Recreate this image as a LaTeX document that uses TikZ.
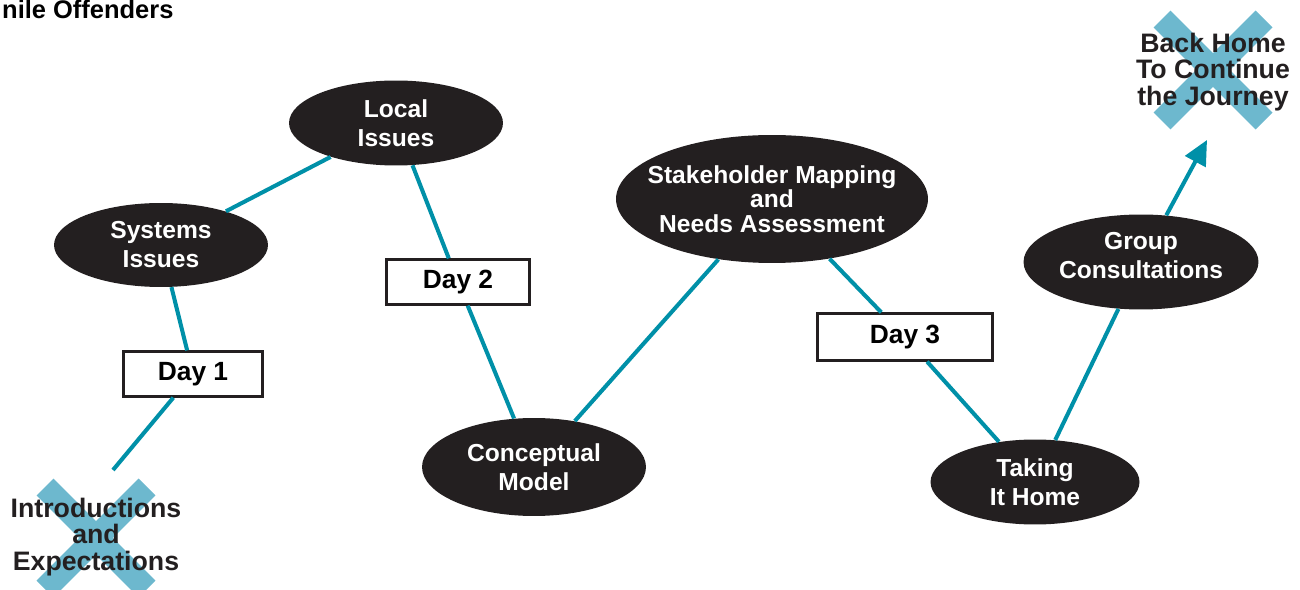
\documentclass[tikz,border=0pt]{standalone}
\usepackage{fontspec}
\setmainfont{Liberation Sans}
\usetikzlibrary{shapes.geometric,arrows.meta}

\definecolor{trailteal}{HTML}{0090A8}
\definecolor{crossblue}{HTML}{6DB8CE}
\definecolor{stopdark}{HTML}{231F20}

\begin{document}
\begin{tikzpicture}[x=0.02cm, y=-0.02cm,
        stop/.style={ellipse, fill=stopdark, text=white, inner sep=0pt, align=center,
            font=\bfseries\fontsize{14pt}{16.5pt}\selectfont},
        daybox/.style={draw=stopdark, line width=1.3pt, fill=white, inner sep=0pt,
            font=\bfseries\fontsize{15pt}{17pt}\selectfont, minimum height=0.9cm},
        trail/.style={trailteal, line width=2.3pt},
        xmark/.pic={\draw[crossblue, line width=0.48cm] (-51,-51) -- (51,51) (51,-51) -- (-51,51);},
        endtext/.style={align=center, text=stopdark, font=\bfseries\fontsize{15.2pt}{15.3pt}\selectfont}]
        \useasboundingbox (0,0) rectangle (1300,590);

        % Title, runs off the left edge.
        \node[anchor=base west, font=\bfseries\fontsize{14.5pt}{16pt}\selectfont] (title) at (-4,19) {nile Offenders};

        % Start and end marks.
        \pic at (96,538) {xmark};
        \node[endtext] (intro) at (96,537) {Introductions\\and\\Expectations};
        \pic at (1213,70) {xmark};
        \node[endtext] (home) at (1213,72) {Back Home\\To Continue\\the Journey};
        \coordinate (introEnd) at (113,470);
        \coordinate (homeEnd) at (1207,140);

        % Stops.
        \node[stop, minimum width=4.28cm, minimum height=1.68cm] (sys) at (161,245) {Systems\\Issues};
        \node[stop, minimum width=4.28cm, minimum height=1.70cm] (local) at (396,123) {Local\\Issues};
        \node[stop, minimum width=4.48cm, minimum height=1.96cm] (concept) at (534,467) {Conceptual\\Model};
        \node[stop, minimum width=6.24cm, minimum height=2.56cm, inner sep=-0.3cm,
            font=\bfseries\fontsize{14pt}{14pt}\selectfont] (stake) at (772,199) {Stakeholder Mapping\\and\\Needs Assessment};
        \node[stop, minimum width=4.18cm, minimum height=1.70cm] (taking) at (1035,482) {Taking\\It Home};
        \node[stop, minimum width=4.70cm, minimum height=1.90cm, text depth=8pt] (group) at (1141,262) {Group\\Consultations};

        % Days.
        \node[daybox, minimum width=2.78cm] (day1) at (193,374) {Day 1};
        \node[daybox, minimum width=2.86cm] (day2) at (458,282) {Day 2};
        \node[daybox, minimum width=3.50cm, minimum height=0.94cm] (day3) at (905,337) {Day 3};

        % Trail.
        \draw[trail] (day1) -- (introEnd);
        \draw[trail] (day1) -- (sys);
        \draw[trail] (sys) -- (local);
        \draw[trail] (local) -- (day2);
        \draw[trail] (day2) -- (concept);
        \draw[trail] (concept) -- (stake);
        \draw[trail] (stake) -- (day3);
        \draw[trail] (day3) -- (taking);
        \draw[trail] (taking) -- (group);
        \draw[trail, -{Triangle[length=14pt, width=13pt]}] (group) -- (homeEnd);
    \end{tikzpicture}
\end{document}
